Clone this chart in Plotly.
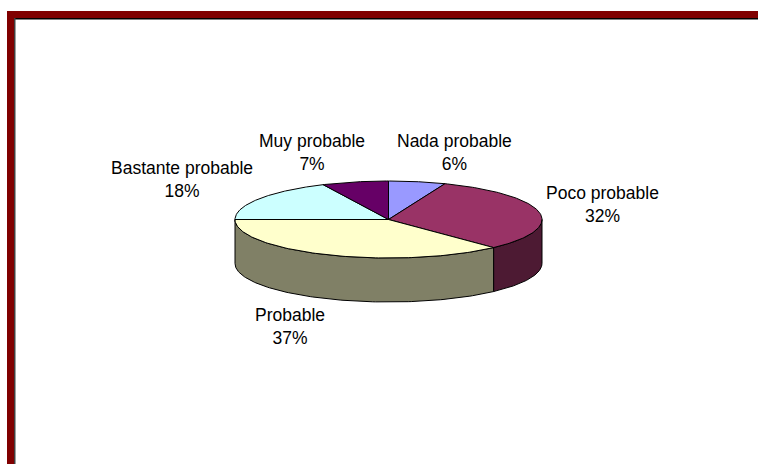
import numpy as np
import plotly.graph_objects as go

# ---- data ----
labels = ["Nada probable", "Poco probable", "Probable", "Bastante probable", "Muy probable"]
values = [6, 32, 37, 18, 7]
top_colors = ["#9999FF", "#993366", "#FFFFCC", "#CCFFFF", "#660066"]
side_colors = ["#4D4D80", "#4D1A33", "#808066", "#668080", "#330033"]

# ---- layout constants (pixel space) ----
W, H = 758, 464
CX, CY, RX, RY, DEPTH = 388.5, 219.5, 153.5, 38.5, 44
label_pos = [(454, 152), (602, 204), (289.5, 326), (181.5, 179), (312, 152)]
FONT = dict(family="Liberation Sans, Arial, sans-serif", size=17.5, color="black")

total = float(sum(values))
cum = np.concatenate([[0], np.cumsum(values)]) / total
phi_start = 90 - 360 * cum[:-1]   # degrees, clockwise from 12 o'clock
phi_end = 90 - 360 * cum[1:]


def arc(a, b, dy=0.0, n=120):
    t = np.radians(np.linspace(a, b, n))
    return CX + RX * np.cos(t), CY - RY * np.sin(t) + dy


fig = go.Figure()

# side walls (only the front half, phi in [-180, 0])
for i in range(len(values)):
    for lo, hi in [(-180, 0), (180, 360), (-540, -360)]:
        a = max(phi_end[i], lo)
        b = min(phi_start[i], hi)
        if b - a > 1e-6:
            xt, yt = arc(b, a)
            xb, yb = arc(a, b, DEPTH)
            xs = np.concatenate([xt, xb, xt[:1]])
            ys = np.concatenate([yt, yb, yt[:1]])
            fig.add_trace(go.Scatter(x=xs, y=ys, mode="lines", fill="toself",
                                     fillcolor=side_colors[i],
                                     line=dict(color="black", width=1),
                                     hoverinfo="skip", showlegend=False))

# top faces
for i in range(len(values)):
    xa, ya = arc(phi_start[i], phi_end[i])
    xs = np.concatenate([[CX], xa, [CX]])
    ys = np.concatenate([[CY], ya, [CY]])
    fig.add_trace(go.Scatter(x=xs, y=ys, mode="lines", fill="toself",
                             fillcolor=top_colors[i],
                             line=dict(color="black", width=1),
                             hoverinfo="skip", showlegend=False))

# labels
for i, (lx, ly) in enumerate(label_pos):
    pct = round(values[i] / total * 100)
    fig.add_annotation(x=lx, y=ly, text=f"{labels[i]}<br>{pct}%", showarrow=False,
                       font=FONT, xanchor="center", yanchor="middle", align="center")

# frame
shapes = [
    dict(type="rect", x0=7, y0=11, x1=W, y1=18, fillcolor="#800000", line_width=0, layer="below"),
    dict(type="rect", x0=7, y0=11, x1=14, y1=H, fillcolor="#800000", line_width=0, layer="below"),
    dict(type="rect", x0=14, y0=18, x1=W, y1=19.5, fillcolor="#000000", line_width=0, layer="below"),
    dict(type="rect", x0=14, y0=18, x1=15.5, y1=H, fillcolor="#404040", line_width=0, layer="below"),
]

fig.update_layout(
    width=W, height=H, margin=dict(l=0, r=0, t=0, b=0),
    paper_bgcolor="white", plot_bgcolor="white",
    xaxis=dict(range=[0, W], visible=False, fixedrange=True),
    yaxis=dict(range=[H, 0], visible=False, fixedrange=True),
    shapes=shapes, showlegend=False,
)

fig.write_html("out.html", config={"displayModeBar": False})
